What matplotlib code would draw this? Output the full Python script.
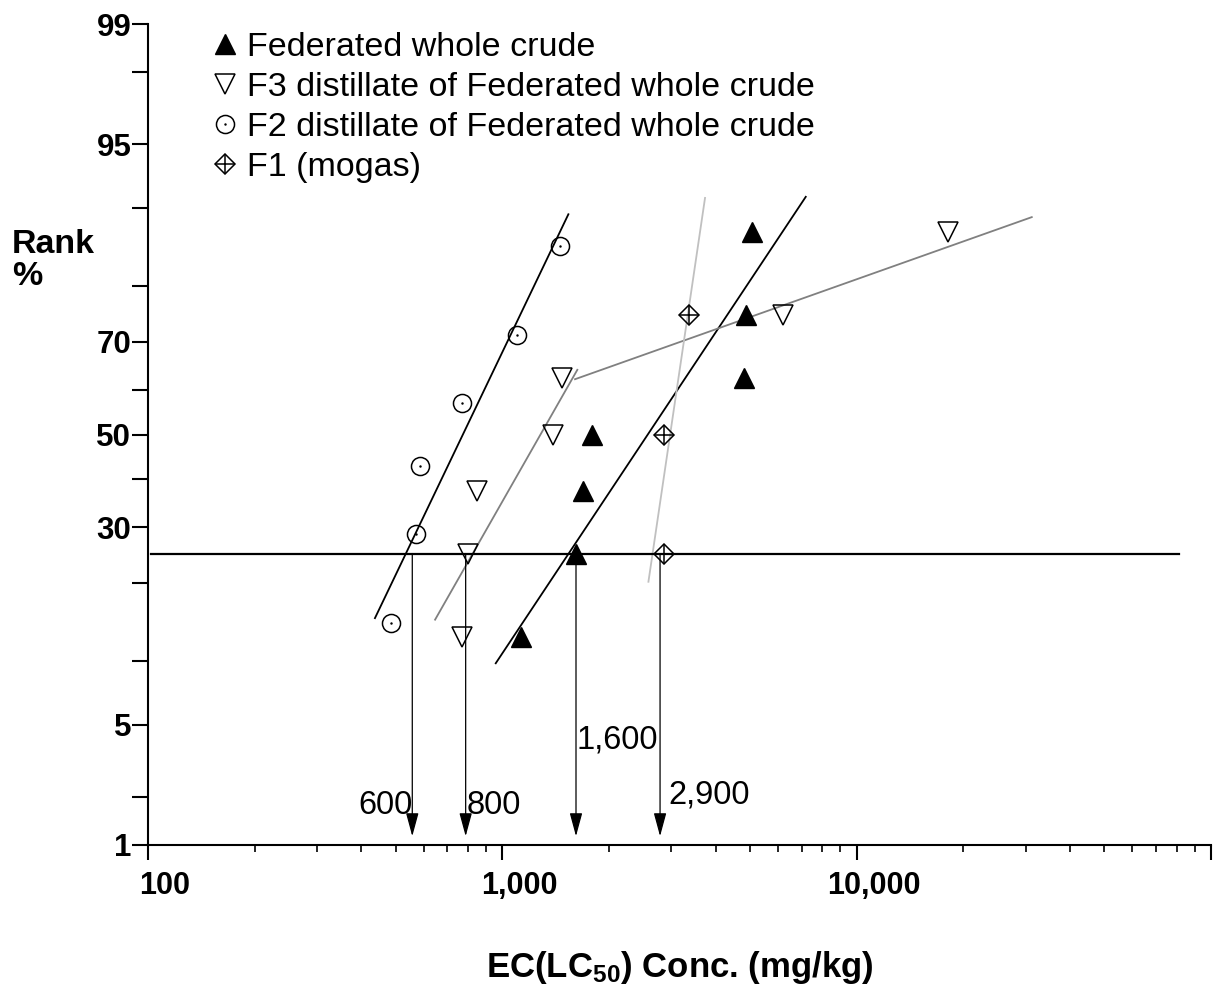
"""Probability plot of EC(LC50) ranks for Federated crude and its distillates."""

import matplotlib.pyplot as plt
import numpy as np
from statistics import NormalDist
from matplotlib.ticker import FixedLocator, FixedFormatter, LogLocator, NullFormatter
from matplotlib.transforms import ScaledTranslation

plt.rcParams['font.family'] = ['Liberation Sans', 'DejaVu Sans']
plt.rcParams['mathtext.default'] = 'regular'

# points: concentration (mg/kg) vs rank (%)
crude_conc = [1129, 1614, 1686, 1788, 4796, 4874, 5058]
crude_rank = [12.5, 25, 37.5, 50, 62.5, 75, 87.5]

f3_conc = [771, 802, 847, 1393, 1471, 6185, 18150]
f3_rank = [12.5, 25, 37.5, 50, 62.5, 75, 87.5]

f2_conc = [485, 571, 586, 771, 1098, 1455]
f2_rank = [14.3, 28.6, 42.9, 57.1, 71.4, 85.7]

f1_conc = [2850, 2850, 3365]
f1_rank = [25, 50, 75]

# fitted lines (end points)
crude_fit_conc = [958, 7183]
crude_fit_rank = [9.74, 91.1]
f3_low_fit_conc = [646, 1628]
f3_low_fit_rank = [14.7, 64.3]
f3_high_fit_conc = [1604, 31200]
f3_high_fit_rank = [62.3, 89.1]
f2_fit_conc = [437, 1536]
f2_fit_rank = [14.9, 89.4]
f1_fit_conc = [2584, 3733]
f1_fit_rank = [20.2, 91.0]

hline_conc = [102, 81300]
hline_rank = 25

arrow_conc = [557, 788, 1614, 2787]
arrow_tip_rank = 1.14
arrow_labels = ['600', '800', '1,600', '2,900']
arrow_label_rank = [1.78, 1.78, 4.16, 2.04]

labels = ['Federated whole crude',
          'F3 distillate of Federated whole crude',
          'F2 distillate of Federated whole crude',
          'F1 (mogas)']

_nd = NormalDist()


def prob_fwd(p):
    p = np.clip(np.asarray(p, dtype=float) / 100.0, 1e-9, 1 - 1e-9)
    return np.vectorize(_nd.inv_cdf, otypes=[float])(p)


def prob_inv(z):
    return 100.0 * np.vectorize(_nd.cdf, otypes=[float])(np.asarray(z, dtype=float))


fig = plt.figure(figsize=(12.14, 9.84), dpi=100)
ax = fig.add_axes([148 / 1214, 1 - 845 / 984, (1211 - 148) / 1214, (845 - 24) / 984])

ax.set_xscale('log')
ax.set_yscale('function', functions=(prob_fwd, prob_inv))
ax.set_xlim(100, 100000)
ax.set_ylim(1, 99)

# fit lines
ax.plot(f2_fit_conc, f2_fit_rank, color='black', lw=1.3)
ax.plot(crude_fit_conc, crude_fit_rank, color='black', lw=1.3)
ax.plot(f3_low_fit_conc, f3_low_fit_rank, color='#808080', lw=1.3)
ax.plot(f3_high_fit_conc, f3_high_fit_rank, color='#808080', lw=1.3)
ax.plot(f1_fit_conc, f1_fit_rank, color='#c0c0c0', lw=1.3)
ax.plot(hline_conc, [hline_rank, hline_rank], color='black', lw=1.6)

# data points
h_crude, = ax.plot(crude_conc, crude_rank, '^', ms=15, color='black', ls='none')
h_f3, = ax.plot(f3_conc, f3_rank, 'v', ms=14.5, mfc='none', mec='black', mew=1.1, ls='none')
h_f2, = ax.plot(f2_conc, f2_rank, 'o', ms=13, mfc='none', mec='black', mew=1.1, ls='none')
h_f2dot, = ax.plot(f2_conc, f2_rank, '.', ms=1.5, color='black', ls='none')
h_f1, = ax.plot(f1_conc, f1_rank, 'D', ms=10.5, mfc='none', mec='black', mew=1.1, ls='none')
h_f1plus, = ax.plot(f1_conc, f1_rank, '+', ms=15, mec='black', mew=1.1, ls='none')

# arrows down to the x axis
offsets = [(0, 'right'), (1, 'left'), (0, 'left'), (6, 'left')]
for x, lab, yl, (dx, ha) in zip(arrow_conc, arrow_labels, arrow_label_rank, offsets):
    ax.annotate('', xy=(x, arrow_tip_rank), xytext=(x, hline_rank),
                arrowprops=dict(arrowstyle='-|>,head_length=1.44,head_width=0.39',
                                mutation_scale=10, color='black', lw=0.9,
                                shrinkA=0, shrinkB=0))
    ax.annotate(lab, xy=(x, yl), xytext=(dx, 0), textcoords='offset points',
                ha=ha, va='center', fontsize=23.5)

# axes styling
for side in ['top', 'right']:
    ax.spines[side].set_visible(False)
for side in ['left', 'bottom']:
    ax.spines[side].set_linewidth(1.5)

ax.yaxis.set_major_locator(FixedLocator([1, 5, 30, 50, 70, 95, 99]))
ax.yaxis.set_major_formatter(FixedFormatter(['1', '5', '30', '50', '70', '95', '99']))
ax.yaxis.set_minor_locator(FixedLocator([2, 10, 20, 40, 60, 80, 90, 98]))
ax.yaxis.set_minor_formatter(NullFormatter())
ax.tick_params(axis='y', which='both', direction='out', length=11.5, width=1.5, pad=0.5,
               labelsize=22.5)

ax.xaxis.set_major_locator(FixedLocator([100, 1000, 10000, 100000]))
ax.xaxis.set_major_formatter(FixedFormatter(['100', '1,000', '10,000', '']))
ax.xaxis.set_minor_locator(LogLocator(base=10, subs=np.arange(2, 10)))
ax.xaxis.set_minor_formatter(NullFormatter())
ax.tick_params(axis='x', which='major', direction='out', length=11, width=1.5, pad=8,
               labelsize=22)
ax.tick_params(axis='x', which='minor', direction='out', length=5, width=1.2)
for lbl in ax.get_xticklabels() + ax.get_yticklabels():
    lbl.set_fontweight('bold')

# x tick labels sit a little right of their ticks in the original
shift = ScaledTranslation(17 / 100, 0, fig.dpi_scale_trans)
for tick in ax.xaxis.get_major_ticks():
    tick.label1.set_transform(tick.label1.get_transform() + shift)

ax.set_xlabel('EC(LC$_{50}$) Conc. (mg/kg)', fontsize=25, fontweight='bold', labelpad=34)
fig.text(12 / 1214, 1 - 229 / 984, 'Rank\n%', fontsize=24.5, fontweight='bold',
         ha='left', va='top', linespacing=1.05)

ax.legend([h_crude, h_f3, (h_f2, h_f2dot), (h_f1, h_f1plus)], labels,
          loc='upper left', bbox_to_anchor=(213 / 1214, 1 - 32 / 984),
          bbox_transform=fig.transFigure, frameon=False, borderpad=0, borderaxespad=0,
          handlelength=0.7, handletextpad=0.3, labelspacing=0.26, fontsize=24.5)

fig.savefig('out.png', dpi=100)
